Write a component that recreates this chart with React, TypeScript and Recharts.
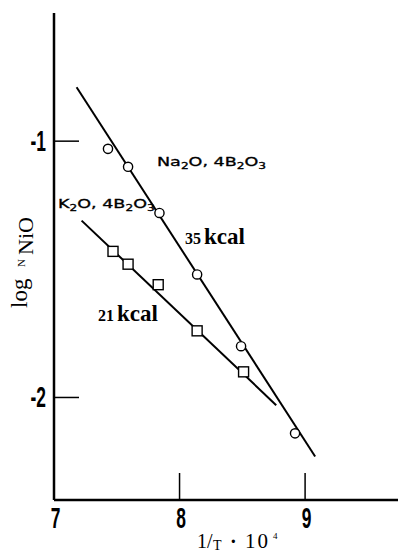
import React from 'react';
import { ComposedChart, XAxis, YAxis, Line, Scatter } from 'recharts';

// Na2O, 4B2O3 (circles) and K2O, 4B2O3 (squares)
const naX = [7.43, 7.59, 7.84, 8.14, 8.49, 8.92];
const naY = [-1.03, -1.1, -1.28, -1.52, -1.8, -2.14];
const kX = [7.47, 7.59, 7.83, 8.14, 8.51];
const kY = [-1.43, -1.48, -1.56, -1.74, -1.9];

// fitted straight lines (end points)
const naFitX = [7.18, 9.08];
const naFitY = [-0.79, -2.23];
const kFitX = [7.22, 8.77];
const kFitY = [-1.31, -2.03];

const xTicks = [7, 8, 9];
const yTicks = [-2, -1];

const zip = (xs: number[], ys: number[]) => xs.map((x, i) => ({ x, y: ys[i] }));

const naData = zip(naX, naY);
const kData = zip(kX, kY);
const naFit = zip(naFitX, naFitY);
const kFit = zip(kFitX, kFitY);

const tickFont = "'Liberation Sans Narrow', 'Liberation Sans', sans-serif";

const YTick = (props: any) => {
  const { x, y, payload } = props;
  return (
    <g>
      <line x1={x} y1={y} x2={x + 25} y2={y} stroke="#000" strokeWidth={1.5} />
      <text
        transform={`translate(${x - 8},${y + 10}) scale(0.6,1)`}
        textAnchor="end"
        fontFamily={tickFont}
        fontWeight="bold"
        fontSize={29}
        fill="#000"
      >
        {payload.value}
      </text>
    </g>
  );
};

const XTick = (props: any) => {
  const { x, y, payload } = props;
  return (
    <g>
      <line x1={x} y1={y} x2={x} y2={y - 27} stroke="#000" strokeWidth={1.5} />
      <text
        transform={`translate(${x + 1.5},${y + 28}) scale(0.6,1)`}
        textAnchor="middle"
        fontFamily={tickFont}
        fontWeight="bold"
        fontSize={29}
        fill="#000"
      >
        {payload.value}
      </text>
    </g>
  );
};

const Circle = (props: any) => (
  <circle cx={props.cx} cy={props.cy} r={4.6} fill="#fff" stroke="#000" strokeWidth={1.4} />
);

const Square = (props: any) => (
  <rect x={props.cx - 5} y={props.cy - 5} width={10} height={10} fill="#fff" stroke="#000" strokeWidth={1.4} />
);

const sans = "'DejaVu Sans', sans-serif";
const serif = "'Liberation Serif', 'Times New Roman', serif";

export default function App() {
  return (
    <div style={{ position: 'absolute', left: 0, top: 0, width: 398, height: 556, background: '#fff' }}>
      <ComposedChart width={398} height={556} margin={{ top: 13, right: 0, bottom: 0, left: 0 }}>
        <XAxis
          type="number"
          dataKey="x"
          domain={[7, 9.74]}
          ticks={xTicks}
          allowDataOverflow
          height={56}
          tickSize={0}
          tickMargin={0}
          tickLine={false}
          tick={<XTick />}
          axisLine={{ stroke: '#000', strokeWidth: 2.5 }}
        />
        <YAxis
          type="number"
          dataKey="y"
          domain={[-2.4, -0.5]}
          ticks={yTicks}
          allowDataOverflow
          width={54}
          tickSize={0}
          tickMargin={0}
          tickLine={false}
          tick={<YTick />}
          axisLine={{ stroke: '#000', strokeWidth: 2.5 }}
        />
        <Line data={naFit} dataKey="y" stroke="#000" strokeWidth={2} dot={false} isAnimationActive={false} />
        <Line data={kFit} dataKey="y" stroke="#000" strokeWidth={2} dot={false} isAnimationActive={false} />
        <Scatter data={naData} dataKey="y" shape={<Circle />} isAnimationActive={false} />
        <Scatter data={kData} dataKey="y" shape={<Square />} isAnimationActive={false} />
      </ComposedChart>

      <svg
        width={398}
        height={556}
        style={{ position: 'absolute', left: 0, top: 0, pointerEvents: 'none' }}
      >
        <text transform="translate(157,166) scale(1.35,1)" fontFamily={sans} fontSize={13} fill="#000" stroke="#000" strokeWidth={0.35}>
          Na<tspan fontSize={9} dy={3}>2</tspan>
          <tspan dy={-3}>O, 4B</tspan>
          <tspan fontSize={9} dy={3}>2</tspan>
          <tspan dy={-3}>O</tspan>
          <tspan fontSize={9} dy={3}>3</tspan>
        </text>
        <text transform="translate(58,208) scale(1.35,1)" fontFamily={sans} fontSize={13} fill="#000" stroke="#000" strokeWidth={0.35}>
          K<tspan fontSize={9} dy={3}>2</tspan>
          <tspan dy={-3}>O, 4B</tspan>
          <tspan fontSize={9} dy={3}>2</tspan>
          <tspan dy={-3}>O</tspan>
          <tspan fontSize={9} dy={3}>3</tspan>
        </text>

        <text x={185} y={244} fontFamily={serif} fontWeight="bold" fill="#000">
          <tspan fontSize={16}>35</tspan>
          <tspan x={204} fontSize={23}>kcal</tspan>
        </text>
        <text x={98} y={321} fontFamily={serif} fontWeight="bold" fill="#000">
          <tspan fontSize={16}>21</tspan>
          <tspan x={117} fontSize={23}>kcal</tspan>
        </text>

        <text transform="translate(27,308) rotate(-90)" fontFamily={serif} fill="#000">
          <tspan fontSize={23}>log</tspan>
          <tspan x={41} dy={-2} fontSize={11}>N</tspan>
          <tspan x={53} dy={8} fontSize={22}>NiO</tspan>
        </text>

        <text y={548} fontFamily={serif} fill="#000">
          <tspan x={197} fontSize={20}>1/</tspan>
          <tspan x={213} dy={2} fontSize={14}>T</tspan>
          <tspan x={230} dy={-2} fontSize={20} fontWeight="bold">·</tspan>
          <tspan x={245} fontSize={21} letterSpacing={2}>10</tspan>
          <tspan x={273} dy={-9} fontSize={9}>4</tspan>
        </text>
      </svg>
    </div>
  );
}
